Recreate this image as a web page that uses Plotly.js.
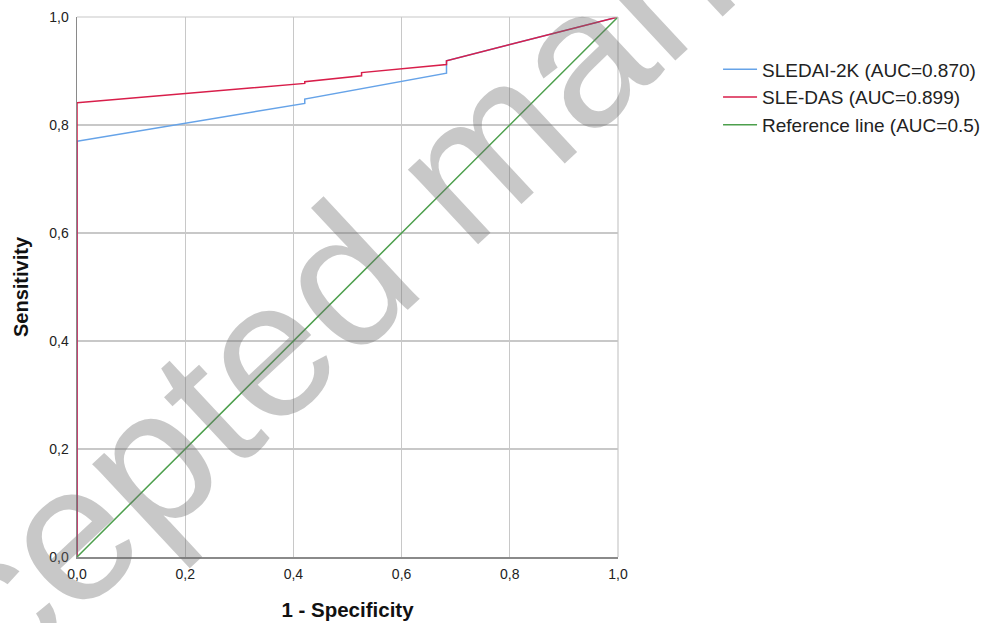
<!DOCTYPE html>
<html>
<head>
<meta charset="utf-8">
<script src="https://cdn.plot.ly/plotly-3.0.1.min.js"></script>
<style>html,body{margin:0;padding:0;background:#fff;}#chart{width:990px;height:623px;}</style>
</head>
<body>
<div id="chart"></div>
<script>
// ROC curve data
const fprSledai = [0, 0, 0.421, 0.421, 0.683, 0.683, 1];
const tprSledai = [0, 0.770, 0.840, 0.848, 0.896, 0.919, 1];
const fprSledas = [0, 0, 0.421, 0.421, 0.526, 0.526, 0.683, 0.683, 1];
const tprSledas = [0, 0.841, 0.877, 0.880, 0.891, 0.897, 0.912, 0.919, 1];
const fprRef = [0, 1];
const tprRef = [0, 1];
const seriesNames = ["SLEDAI-2K (AUC=0.870)", "SLE-DAS (AUC=0.899)", "Reference line (AUC=0.5)"];
const tickVals = [0, 0.2, 0.4, 0.6, 0.8, 1.0];
const tickText = ["0,0", "0,2", "0,4", "0,6", "0,8", "1,0"];

const font = "Arial, 'Liberation Sans', sans-serif";
const traces = [
  {x: fprSledai, y: tprSledai, mode: "lines", name: seriesNames[0], line: {color: "#66a3e8", width: 1.5}},
  {x: fprSledas, y: tprSledas, mode: "lines", name: seriesNames[1], line: {color: "#d81e4a", width: 1.5}},
  {x: fprRef, y: tprRef, mode: "lines", name: seriesNames[2], line: {color: "#4c9f4c", width: 1.5}}
];

const axisCommon = {
  range: [0, 1], tickvals: tickVals, ticktext: tickText,
  showgrid: true, gridcolor: "#c8c8c8", gridwidth: 1.2,
  zeroline: false, showline: true, linecolor: "#8a8a8a", linewidth: 1.5,
  ticks: "", tickfont: {family: font, size: 14, color: "#222"},
  fixedrange: true, automargin: false
};

const layout = {
  width: 990, height: 623,
  margin: {l: 77, r: 372, t: 17, b: 66, pad: 0, autoexpand: false},
  paper_bgcolor: "#fff", plot_bgcolor: "#fff",
  showlegend: true,
  legend: {xref: "container", yref: "container", x: 0.7253, xanchor: "left", y: 0.919, yanchor: "top",
    font: {family: font, size: 19, color: "#222"}, tracegroupgap: 0, itemwidth: 34},
  xaxis: Object.assign({}, axisCommon, {
    title: {text: "<b>1 - Specificity</b>", font: {family: font, size: 20.5, color: "#111"}, standoff: 21},
    ticklabelstandoff: 4
  }),
  yaxis: Object.assign({}, axisCommon, {
    title: {text: "<b>Sensitivity</b>", font: {family: font, size: 20, color: "#111"}, standoff: 15},
    ticklabelstandoff: 4
  }),
  shapes: [
    {type: "line", xref: "paper", yref: "paper", x0: 0, x1: 1, y0: 1, y1: 1, line: {color: "#c8c8c8", width: 1.2}},
    {type: "line", xref: "paper", yref: "paper", x0: 1, x1: 1, y0: 0, y1: 1, line: {color: "#c8c8c8", width: 1.2}}
  ],
  annotations: [
    {text: "Accepted manuscript", xref: "x", yref: "y", x: 0.697, y: 0.708,
     showarrow: false, textangle: -43,
     font: {family: font, size: 194, color: "rgba(110,110,110,0.38)"}}
  ]
};

Plotly.newPlot("chart", traces, layout, {displayModeBar: false, staticPlot: true});
</script>
</body>
</html>
